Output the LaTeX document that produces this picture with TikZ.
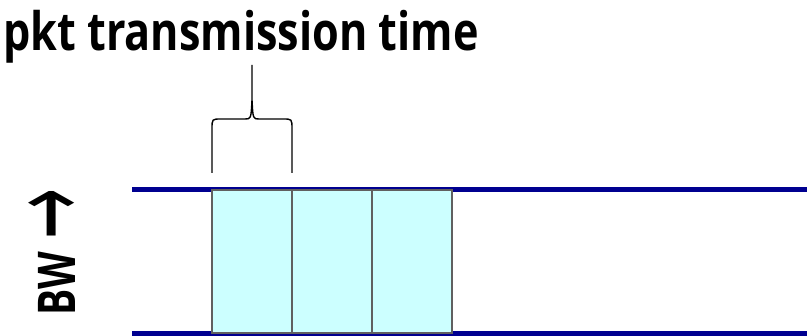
\documentclass[tikz,border=0pt]{standalone}
\usepackage{fontspec}
\usepackage{graphicx}
\setmainfont{Open Sans}
\newfontfamily\arrowfont{DejaVu Sans}
\usepackage{tikz}
\definecolor{linkblue}{HTML}{000090}
\definecolor{pktfill}{HTML}{CCFFFF}
\definecolor{pktedge}{HTML}{606060}

\begin{document}
\begin{tikzpicture}[x=1pt,y=-1pt]
\tikzstyle{pkt}=[draw=pktedge,fill=pktfill,line width=1.4pt,minimum width=80pt,minimum height=143pt,inner sep=0pt,outer sep=0pt,anchor=north west];
\tikzstyle{link}=[draw=linkblue,line width=5.5pt];
\useasboundingbox (0,0) rectangle (807,336);
% link edges
\draw[link] (132,189.5) -- (807,189.5);
\draw[link] (132,333.5) -- (807,333.5);
% packets back to back
\node[pkt] (pkt1) at (212,190) {};
\node[pkt] (pkt2) at (pkt1.north east) {};
\node[pkt] (pkt3) at (pkt2.north east) {};
% brace over first packet
\draw[line width=1.4pt] (212,173) -- (212,129) .. controls (212,119) .. (221,119) -- (245,119)
  .. controls (251,119) .. (252,100) -- (252,65) (252,100) .. controls (253,119) .. (259,119)
  -- (283,119) .. controls (292,119) .. (292,129) -- (292,173);
\node[anchor=base,font=\bfseries,inner sep=0pt] (title) at (241,51)
  {\scalebox{0.815}[1]{\fontsize{53}{60}\selectfont pkt transmission time}};
\node[rotate=90,font=\bfseries,inner sep=0pt] (bw) at (56.5,252)
  {\scalebox{0.75}[1]{\fontsize{52}{56}\selectfont BW}\hspace{12pt}%
   \raisebox{-10pt}{\resizebox{51pt}{57pt}{\arrowfont\mdseries →}}};
\end{tikzpicture}
\end{document}
